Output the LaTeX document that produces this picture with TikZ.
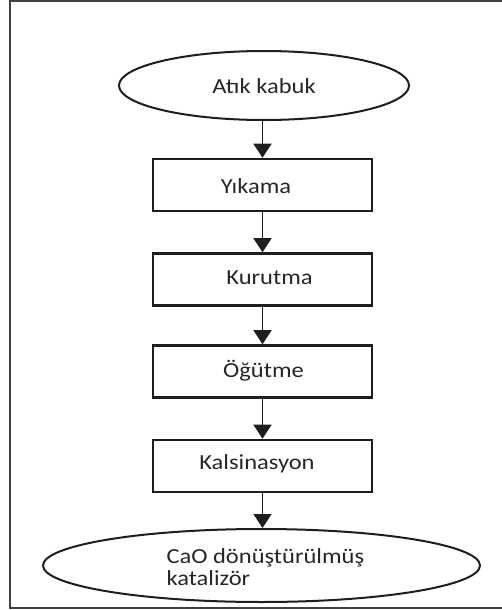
\documentclass[tikz,border=0pt]{standalone}
\usepackage{fontspec}
\setmainfont{Carlito}[FakeStretch=1.14]
\usetikzlibrary{arrows.meta,shapes.geometric}
\definecolor{ink}{HTML}{1E1E1E}
\definecolor{txt}{HTML}{262626}
\begin{document}
\begin{tikzpicture}[x=1pt,y=-1pt,
  stepbox/.style={draw=ink,line width=2.6pt,minimum width=219pt,minimum height=52pt,inner sep=0pt},
  endcap/.style={ellipse,draw=ink,line width=2pt,inner sep=0pt},
  lbl/.style={font=\fontsize{21.5}{22}\selectfont,text=txt},
  flow/.style={draw=ink,line width=1.6pt,-{Triangle[width=18pt,length=14pt]}}]
\useasboundingbox (0,0) rectangle (501,610);
% outer frame
\draw[line width=2pt,black!75] (10,1) rectangle (505,607.5);
% terminals and process boxes
\node[endcap,minimum width=290pt,minimum height=69pt] (start) at (264,85.5) {};
\node[stepbox] (wash) at (262.5,185) {};
\node[stepbox] (dry) at (262.5,279.5) {};
\node[stepbox] (grind) at (262.5,371.5) {};
\node[stepbox] (calc) at (262.5,466) {};
\node[endcap,minimum width=437pt,minimum height=73pt] (final) at (261.5,565.5) {};
% labels
\node[lbl] (t0) at (264,86) {Atık kabuk};
\node[lbl] (t1) at (256,186) {Yıkama};
\node[lbl] (t2) at (269.5,278) {Kurutma};
\node[lbl] (t3) at (263.5,371) {Öğütme};
\node[lbl] (t4) at (257,464) {Kalsinasyon};
\node[lbl,align=left,anchor=west] (t5) at (163,567) {CaO dönüştürülmüş\\katalizör};
% connectors, all on the common vertical axis
\draw[flow] (wash.north |- start.south) -- (wash.north);
\draw[flow] (wash.south) -- (dry.north);
\draw[flow] (dry.south) -- (grind.north);
\draw[flow] (grind.south) -- (calc.north);
\draw[flow] (calc.south) -- (calc.south |- final.north);
\end{tikzpicture}
\end{document}
